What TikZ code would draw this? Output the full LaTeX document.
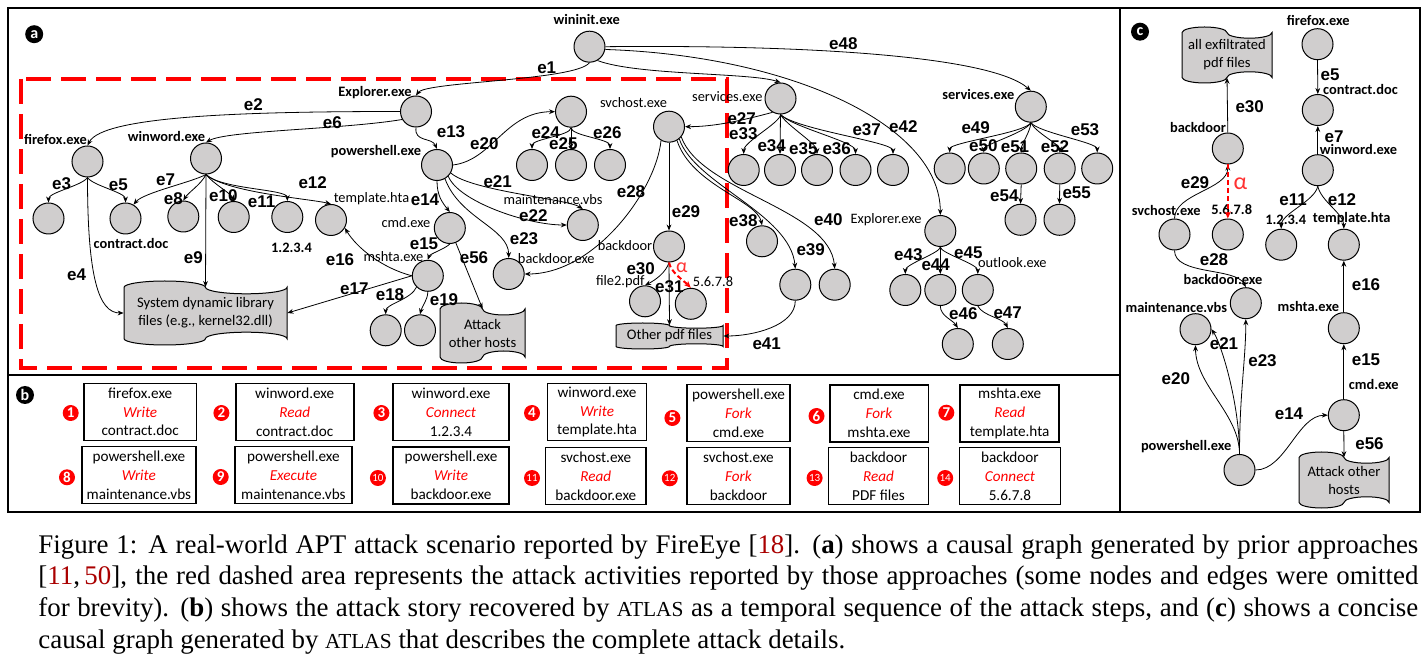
\documentclass[tikz,border=0pt]{standalone}
\usepackage{fontspec}
\setmainfont{Liberation Serif}
\newfontfamily\calibri{Carlito}
\newfontfamily\arialf{Liberation Sans}
\usetikzlibrary{arrows.meta}

\definecolor{nodegray}{RGB}{208,206,206}
\definecolor{citered}{RGB}{170,0,0}
\definecolor{alphared}{RGB}{255,50,50}

\newcommand\stepact[1]{{\color{red}\itshape #1}}
\newcommand\atlasname{{\fontsize{10.7}{15.85}\selectfont ATLAS}}
\newcommand\capline[1]{\makebox[690pt][s]{#1}}

% nastro (punched tape): nome, x0, y0, larghezza, altezza, testo
\newcommand\tapebox[6]{%
  \pgfmathsetmacro\tapeq{#4/4}%
  \pgfmathsetmacro\tapea{#5/10}%
  \draw[tapeline] (#2,#3+\tapea)
    arc[start angle=180,end angle=360,x radius=\tapeq,y radius=\tapea]
    arc[start angle=180,end angle=0,x radius=\tapeq,y radius=\tapea]
    -- (#2+#4,#3+#5-\tapea)
    arc[start angle=0,end angle=-180,x radius=\tapeq,y radius=\tapea]
    arc[start angle=0,end angle=180,x radius=\tapeq,y radius=\tapea]
    -- cycle;
  \node[tapetext,minimum width=#4*0.5pt,minimum height=#5*0.4pt] (#1) at (#2+#4/2,#3+#5/2) {#6};
}

\tikzset{
  proc/.style={circle,draw=black,line width=0.5pt,fill=nodegray,minimum size=15.5pt,inner sep=0pt},
  lbl/.style={font=\calibri\fontsize{7.2}{8}\selectfont,inner sep=0pt},
  lblb/.style={font=\calibri\bfseries\fontsize{7.2}{8}\selectfont,inner sep=0pt},
  elab/.style={font=\arialf\bfseries\fontsize{8.5}{9}\selectfont,inner sep=0pt},
  link/.style={-{Stealth[length=3pt,width=2.4pt]},line width=0.4pt},
  alphalink/.style={-{Stealth[length=3.5pt,width=3pt]},draw=red,line width=1pt,dash pattern=on 2.5pt off 1.5pt},
  alphalbl/.style={text=alphared,font=\calibri\fontsize{10}{10}\selectfont,inner sep=0pt},
  tapeline/.style={draw=black,line width=0.5pt,fill=nodegray},
  tapetext/.style={font=\calibri\fontsize{7.3}{9}\selectfont,align=center,inner sep=0pt},
  stepbox/.style={draw=black,line width=0.8pt,minimum height=28.5pt,inner sep=0pt,align=center,font=\calibri\fontsize{7.6}{9.4}\selectfont},
  stepnum/.style={circle,fill=red,text=white,minimum size=8pt,inner sep=0pt,font=\calibri\bfseries\fontsize{7.5}{7.5}\selectfont},
  stepnumsmall/.style={stepnum,font=\calibri\fontsize{5.5}{5.5}\selectfont},
  panellbl/.style={circle,fill=black,text=white,minimum size=9pt,inner sep=0pt,font=\calibri\bfseries\fontsize{8}{8}\selectfont},
  redbox/.style={draw=red,line width=2pt,dash pattern=on 12.5pt off 5pt},
  panelframe/.style={draw=black,line width=1pt}
}

\begin{document}
\begin{tikzpicture}[x=0.5pt,y=-0.5pt]
	% Sfondo e cornici
	\useasboundingbox (0,0) rectangle (1428,667);
	\fill[white] (0,0) rectangle (1428,667);
	\draw[panelframe] (8,8) rectangle (1420,512);
	\draw[panelframe] (1120,8) -- (1120,512);
	\draw[panelframe] (8,375) -- (1120,375);
	\draw[redbox] (21,79) rectangle (727,368);

	\node[panellbl] (pa) at (34.2,34.2) {a};
	\node[panellbl] (pb) at (25,395) {b};
	\node[panellbl] (pc) at (1140,31.7) {c};

	% Pannello a: processi e file
	\node[proc] (wininit) at (589.5,46.7) {};
	\node[proc] (explA) at (416,111.5) {};
	\node[proc] (firefox) at (87.5,161.5) {};
	\node[proc] (winword) at (206,158.5) {};
	\node[proc] (ff1) at (48.5,218.5) {};
	\node[proc] (contract) at (125.5,218.5) {};
	\node[proc] (ww3) at (183.3,216.5) {};
	\node[proc] (ww4) at (233.7,217) {};
	\node[proc] (ipA) at (287.3,217) {};
	\node[proc] (template) at (331,220) {};
	\node[proc] (powershell) at (437,165) {};
	\node[proc] (topmid) at (571,111.7) {};
	\node[proc] (tm1) at (532,165) {};
	\node[proc] (tm2) at (571,165) {};
	\node[proc] (tm3) at (610,165) {};
	\node[proc] (cmd) at (449.8,228) {};
	\node[proc] (maint) at (582.8,225) {};
	\node[proc] (bdexe) at (508.7,274) {};
	\node[proc] (mshta) at (427.8,275.8) {};
	\node[proc] (ms1) at (385.7,330.3) {};
	\node[proc] (ms2) at (420,330.3) {};
	\node[proc] (svchost) at (669,126.7) {};
	\node[proc] (backdoor) at (669,246.5) {};
	\node[proc] (file2) at (645,301.3) {};
	\node[proc] (ipB) at (690.8,303.8) {};
	\node[proc] (servA) at (780.5,98.5) {};
	\node[proc] (sa1) at (743.7,170) {};
	\node[proc] (sa2) at (780,170) {};
	\node[proc] (sa3) at (817,170) {};
	\node[proc] (sa4) at (855.5,170) {};
	\node[proc] (sa5) at (893,170) {};
	\node[proc] (sv38) at (762,241.3) {};
	\node[proc] (sv39) at (795.3,284.7) {};
	\node[proc] (sv40) at (834.7,284.7) {};
	\node[proc] (explB) at (940.3,231) {};
	\node[proc] (eb1) at (905.3,290) {};
	\node[proc] (eb2) at (940.3,290) {};
	\node[proc] (outlook) at (977.8,290) {};
	\node[proc] (eb21) at (957.8,344) {};
	\node[proc] (ol1) at (1007.8,344) {};
	\node[proc] (servB) at (1030.8,106.7) {};
	\node[proc] (sB1) at (949.7,168.5) {};
	\node[proc] (sB2) at (983.8,168.5) {};
	\node[proc] (sB3) at (1021.2,168.5) {};
	\node[proc] (sB4) at (1059.7,168.5) {};
	\node[proc] (sB5) at (1097.2,168.5) {};
	\node[proc] (sB31) at (1020.5,219.8) {};
	\node[proc] (sB41) at (1059.5,219.8) {};

	\tapebox{tapeSys}{124}{281}{163}{64}{System dynamic library\\files (e.g., kernel32.dll)}
	\tapebox{tapeAtk}{440}{303}{85}{60}{Attack\\other hosts}
	\tapebox{tapePdf}{616}{323}{107}{26}{Other pdf files}

	% Etichette dei nodi
	\node[lblb] (wininitL) at (586.7,19.3) {wininit.exe};
	\node[lblb] (explAL) at (375,93) {Explorer.exe};
	\node[lblb] (firefoxL) at (55.5,139) {firefox.exe};
	\node[lblb] (winwordL) at (166.5,137) {winword.exe};
	\node[lblb] (contractL) at (131,243.3) {contract.doc};
	\node[lblb] (ipAL) at (291.5,248) {1.2.3.4};
	\node[lbl] (templateL) at (371.5,199) {template.hta};
	\node[lblb] (powershellL) at (376,152) {powershell.exe};
	\node[lbl] (cmdL) at (406,222.3) {cmd.exe};
	\node[lbl] (maintL) at (553,199.3) {maintenance.vbs};
	\node[lbl] (bdexeL) at (556.3,258.3) {backdoor.exe};
	\node[lbl] (mshtaL) at (393.5,257) {mshta.exe};
	\node[lbl] (svchostL) at (633.5,102.5) {svchost.exe};
	\node[lbl] (backdoorL) at (625,245.7) {backdoor};
	\node[lbl] (file2L) at (620.3,281.7) {file2.pdf};
	\node[lbl] (ipBL) at (713,281.7) {5.6.7.8};
	\node[lbl] (servAL) at (727.3,96.7) {services.exe};
	\node[lbl] (explBL) at (886,220) {Explorer.exe};
	\node[lbl] (outlookL) at (1012.3,262.3) {outlook.exe};
	\node[lblb] (servBL) at (978.3,95) {services.exe};

	% Archi del pannello a
	\draw[link] (wininit.south) .. controls +(-14,18) and +(10,-14) .. (explA.north);
	\draw[link] (wininit.-60) .. controls +(40,15) and +(-30,-10) .. (servA.north);
	\draw[link] (wininit.-10) .. controls +(185,6) and +(0,-90) .. (explB.north);
	\draw[link] (wininit.east) .. controls +(200,-2) and +(-40,-35) .. (servB.north);

	\draw[link] (explA.west) .. controls +(-150,0) and +(15,-30) .. (firefox.north);
	\draw[link] (explA.210) .. controls +(-60,10) and +(20,-12) .. (winword.north);
	\draw[link] (explA.south) .. controls +(-2,15) and +(-5,-12) .. (powershell.north);

	\draw[link] (firefox.south) .. controls +(-5,8) and +(0,-10) .. (ff1.north);
	\draw[link] (firefox.south) .. controls +(5,8) and +(0,-10) .. (contract.north);
	\draw[link] (firefox.south) .. controls +(0,100) and +(-25,0) .. (tapeSys.west);

	\draw[link] (winword.south) .. controls +(-15,8) and +(10,-12) .. (contract.60);
	\draw[link] (winword.south) .. controls +(-5,10) and +(5,-8) .. (ww3.north);
	\draw[link] (winword.south) -- (tapeSys.north);
	\draw[link] (winword.south) .. controls +(8,10) and +(-3,-8) .. (ww4.north);
	\draw[link] (winword.south) .. controls +(15,15) and +(0,-12) .. (ipA.north);
	\draw[link] (winword.south) .. controls +(20,18) and +(-20,-5) .. (template.north);

	\draw[link] (powershell.south) .. controls +(0,14) and +(-8,-10) .. (cmd.north);
	\draw[link] (powershell.east) .. controls +(40,-5) and +(-50,0) .. (topmid.west);
	\draw[link] (powershell.-30) .. controls +(20,18) and +(-15,-10) .. (maint.north);
	\draw[link] (powershell.-45) .. controls +(10,25) and +(-40,0) .. (maint.west);
	\draw[link] (powershell.-60) .. controls +(15,40) and +(0,-30) .. (bdexe.north);

	\draw[link] (cmd.south) .. controls +(-5,5) and +(2,-6) .. (mshta.north);
	\draw[link] (cmd) -- (tapeAtk.north);
	\draw[link] (mshta.west) .. controls +(-30,-8) and +(12,20) .. (template.-30);
	\draw[link] (mshta.west) -- (tapeSys.east);
	\draw[link] (mshta.-135) .. controls +(-5,12) and +(0,-10) .. (ms1.north);
	\draw[link] (mshta.south) .. controls +(0,8) and +(2,-8) .. (ms2.north);

	\draw[link] (topmid.south) .. controls +(0,8) and +(0,-10) .. (tm1.north);
	\draw[link] (topmid.south) -- (tm2.north);
	\draw[link] (topmid.south) .. controls +(0,8) and +(0,-10) .. (tm3.north);

	\draw[link] (servA.-120) .. controls +(-30,8) and +(30,0) .. (svchost.east);
	\draw[link] (servA.south) .. controls +(0,8) and +(0,-12) .. (sa1.north);
	\draw[link] (servA.south) -- (sa2.north);
	\draw[link] (servA.south) .. controls +(5,10) and +(0,-10) .. (sa3.north);
	\draw[link] (servA.south) .. controls +(10,12) and +(0,-12) .. (sa4.north);
	\draw[link] (servA.south) .. controls +(15,15) and +(0,-12) .. (sa5.north);

	\draw[link] (svchost.-120) .. controls +(-5,50) and +(70,0) .. (bdexe.east);
	\draw[link] (svchost.south) -- (backdoor.north);
	\draw[link] (svchost.-60) .. controls +(15,45) and +(-5,-25) .. (sv38.north);
	\draw[link] (svchost.-50) .. controls +(15,45) and +(-5,-55) .. (sv39.north);
	\draw[link] (svchost.-40) .. controls +(20,55) and +(-5,-60) .. (sv40.north);
	\draw[link] (sv39.south) .. controls +(0,25) and +(30,0) .. (tapePdf.east);

	\draw[link] (backdoor.south) .. controls +(-3,10) and +(10,-5) .. (file2.north);
	\draw[link] (backdoor.south) -- (tapePdf.north);
	\draw[alphalink] (backdoor.south) .. controls +(2,10) and +(-8,-8) .. (ipB.north);

	\draw[link] (explB.south) .. controls +(0,6) and +(0,-10) .. (eb1.north);
	\draw[link] (explB.south) -- (eb2.north);
	\draw[link] (explB.south) .. controls +(0,6) and +(0,-10) .. (outlook.north);
	\draw[link] (eb2.south) .. controls +(0,10) and +(-5,-8) .. (eb21.north);
	\draw[link] (outlook.south) .. controls +(5,10) and +(-5,-10) .. (ol1.north);

	\draw[link] (servB.south) .. controls +(-5,10) and +(0,-10) .. (sB1.north);
	\draw[link] (servB.south) .. controls +(-5,10) and +(0,-8) .. (sB2.north);
	\draw[link] (servB.south) .. controls +(0,8) and +(0,-8) .. (sB3.north);
	\draw[link] (servB.south) .. controls +(5,10) and +(0,-8) .. (sB4.north);
	\draw[link] (servB.south) .. controls +(8,10) and +(0,-10) .. (sB5.north);
	\draw[link] (sB3.south) -- (sB31.north);
	\draw[link] (sB4.south) -- (sB41.north);

	% Etichette degli archi (pannello a)
	\node[elab] (e1) at (546.7,67.7) {e1};
	\node[elab] (e2) at (253.3,105) {e2};
	\node[elab] (e3) at (61.7,183.3) {e3};
	\node[elab] (e4) at (76.7,275) {e4};
	\node[elab] (e5) at (118.3,185) {e5};
	\node[elab] (e6) at (332.3,122.7) {e6};
	\node[elab] (e7) at (165.7,180) {e7};
	\node[elab] (e8) at (173.3,198.3) {e8};
	\node[elab] (e9) at (193.3,257.3) {e9};
	\node[elab] (e10) at (223.3,196) {e10};
	\node[elab] (e11) at (261.7,201.7) {e11};
	\node[elab] (e12) at (312.7,182.3) {e12};
	\node[elab] (e13) at (451,131.7) {e13};
	\node[elab] (e14) at (425,200) {e14};
	\node[elab] (e15) at (424,244) {e15};
	\node[elab] (e16) at (340,260) {e16};
	\node[elab] (e17) at (354.3,289) {e17};
	\node[elab] (e18) at (390,295) {e18};
	\node[elab] (e19) at (444,299.3) {e19};
	\node[elab] (e20) at (484.3,143.3) {e20};
	\node[elab] (e21) at (497.7,181.7) {e21};
	\node[elab] (e22) at (533.3,216) {e22};
	\node[elab] (e23) at (524,238.3) {e23};
	\node[elab] (e24) at (545.7,132.7) {e24};
	\node[elab] (e25) at (563.3,143.3) {e25};
	\node[elab] (e26) at (607.3,132.7) {e26};
	\node[elab] (e27) at (741.7,119) {e27};
	\node[elab] (e28) at (631,191.7) {e28};
	\node[elab] (e29) at (686,211.7) {e29};
	\node[elab] (e30) at (640.7,268.3) {e30};
	\node[elab] (e31) at (669.3,286.7) {e31};
	\node[elab] (e33) at (743.3,134) {e33};
	\node[elab] (e34) at (771.7,146) {e34};
	\node[elab] (e35) at (803.3,148.3) {e35};
	\node[elab] (e36) at (836.7,148.3) {e36};
	\node[elab] (e37) at (866.7,130) {e37};
	\node[elab] (e38) at (743.3,221) {e38};
	\node[elab] (e39) at (810.7,250) {e39};
	\node[elab] (e40) at (828.3,220) {e40};
	\node[elab] (e41) at (766.7,343.3) {e41};
	\node[elab] (e42) at (903.3,126.7) {e42};
	\node[elab] (e43) at (908.3,255) {e43};
	\node[elab] (e44) at (935.7,265) {e44};
	\node[elab] (e45) at (968.3,252.3) {e45};
	\node[elab] (e46) at (963.3,314) {e46};
	\node[elab] (e47) at (1007.7,312.3) {e47};
	\node[elab] (e48) at (843.3,43.3) {e48};
	\node[elab] (e49) at (975.7,127.7) {e49};
	\node[elab] (e50) at (983.3,145.7) {e50};
	\node[elab] (e51) at (1015,146.7) {e51};
	\node[elab] (e52) at (1055,146.7) {e52};
	\node[elab] (e53) at (1085,130) {e53};
	\node[elab] (e54) at (1004.3,196) {e54};
	\node[elab] (e55) at (1076.7,192.7) {e55};
	\node[elab] (e56) at (474,257.3) {e56};
	\node[alphalbl] (alphaA) at (681.7,267.3) {α};

	% Pannello b: passi dell'attacco
	\node[stepbox,minimum width=56.2pt] (st1) at (140.2,412) {firefox.exe\\\stepact{Write}\\contract.doc};
	\node[stepbox,minimum width=59pt] (st2) at (294.7,412) {winword.exe\\\stepact{Read}\\contract.doc};
	\node[stepbox,minimum width=58pt] (st3) at (451,412) {winword.exe\\\stepact{Connect}\\1.2.3.4};
	\node[stepbox,minimum width=49.5pt] (st4) at (597,412) {winword.exe\\\stepact{Write}\\template.hta};
	\node[stepbox,minimum width=51.75pt] (st5) at (738.5,413) {powershell.exe\\\stepact{Fork}\\cmd.exe};
	\node[stepbox,minimum width=49.3pt] (st6) at (879,413.3) {cmd.exe\\\stepact{Fork}\\mshta.exe};
	\node[stepbox,minimum width=49.5pt] (st7) at (1009.7,413.3) {mshta.exe\\\stepact{Read}\\template.hta};
	\node[stepbox,minimum width=56.85pt] (st8) at (138.9,475) {powershell.exe\\\stepact{Write}\\maintenance.vbs};
	\node[stepbox,minimum width=58.4pt] (st9) at (293.4,475) {powershell.exe\\\stepact{Execute}\\maintenance.vbs};
	\node[stepbox,minimum width=58pt] (st10) at (451,475.5) {powershell.exe\\\stepact{Write}\\backdoor.exe};
	\node[stepbox,minimum width=50.2pt] (st11) at (595.8,476) {svchost.exe\\\stepact{Read}\\backdoor.exe};
	\node[stepbox,minimum width=51.75pt] (st12) at (738.5,476) {svchost.exe\\\stepact{Fork}\\backdoor};
	\node[stepbox,minimum width=49.85pt] (st13) at (878.5,476) {backdoor\\\stepact{Read}\\PDF files};
	\node[stepbox,minimum width=50.4pt] (st14) at (1009.9,476) {backdoor\\\stepact{Connect}\\5.6.7.8};

	\node[stepnum] (n1) at (70.7,413) {1};
	\node[stepnum] (n2) at (221.4,413) {2};
	\node[stepnum] (n3) at (381.4,413) {3};
	\node[stepnum] (n4) at (532,413) {4};
	\node[stepnum] (n5) at (672.4,418) {5};
	\node[stepnum] (n6) at (816.5,416) {6};
	\node[stepnum] (n7) at (946.3,412.7) {7};
	\node[stepnum] (n8) at (67,477.3) {8};
	\node[stepnum] (n9) at (220.7,477) {9};
	\node[stepnumsmall] (n10) at (377.9,478) {10};
	\node[stepnumsmall] (n11) at (532,478) {11};
	\node[stepnumsmall] (n12) at (669.8,478.3) {12};
	\node[stepnumsmall] (n13) at (814.6,478) {13};
	\node[stepnumsmall] (n14) at (945.2,478) {14};

	% Pannello c: grafo conciso
	\node[proc] (cBackdoor) at (1227.8,148.5) {};
	\node[proc] (cIpB) at (1227.8,234.5) {};
	\node[proc] (cSvchost) at (1174.5,234.5) {};
	\node[proc] (cFirefox) at (1317.5,44.2) {};
	\node[proc] (cContract) at (1317.8,110) {};
	\node[proc] (cWinword) at (1317.8,170.2) {};
	\node[proc] (cIpA) at (1281.2,244.7) {};
	\node[proc] (cTemplate) at (1343.8,244.7) {};
	\node[proc] (cBdexe) at (1245.8,303.2) {};
	\node[proc] (cMaint) at (1195.5,329.2) {};
	\node[proc] (cPowershell) at (1239.5,470) {};
	\node[proc] (cCmd) at (1343.8,415.2) {};
	\node[proc] (cMshta) at (1343.8,328.2) {};

	\tapebox{cTapePdf}{1182}{27}{90}{56}{all exfiltrated\\pdf files}
	\tapebox{cTapeAtk}{1299}{452}{90}{56}{Attack other\\hosts}

	\node[lblb] (cFirefoxL) at (1318.3,20.7) {firefox.exe};
	\node[lblb] (cContractL) at (1360.5,89.3) {contract.doc};
	\node[lblb] (cWinwordL) at (1358.5,150) {winword.exe};
	\node[lblb] (cBackdoorL) at (1198,127.7) {backdoor};
	\node[lblb] (cSvchostL) at (1166.2,211) {svchost.exe};
	\node[lblb] (cIpBL) at (1231.7,210) {5.6.7.8};
	\node[lblb] (cIpAL) at (1285.7,220) {1.2.3.4};
	\node[lblb] (cTemplateL) at (1351.7,219) {template.hta};
	\node[lblb] (cBdexeL) at (1223,279.3) {backdoor.exe};
	\node[lblb] (cMaintL) at (1176.3,307.3) {maintenance.vbs};
	\node[lblb] (cMshtaL) at (1308.3,306.7) {mshta.exe};
	\node[lblb] (cCmdL) at (1373.8,385) {cmd.exe};
	\node[lblb] (cPowershellL) at (1186.2,446.7) {powershell.exe};

	\draw[link] (cBackdoor.north) -- (cTapePdf.south);
	\draw[link] (cSvchost.north) .. controls +(0,-25) and +(0,25) .. (cBackdoor.south);
	\draw[alphalink] (cBackdoor.south) -- (cIpB.north);
	\draw[link] (cSvchost.south) .. controls +(0,25) and +(-10,-20) .. (cBdexe.north);
	\draw[link] (cFirefox.south) -- (cContract.north);
	\draw[link] (cWinword.north) -- (cContract.south);
	\draw[link] (cWinword.south) .. controls +(-3,15) and +(0,-15) .. (cIpA.north);
	\draw[link] (cWinword.south) .. controls +(3,15) and +(0,-15) .. (cTemplate.north);
	\draw[link] (cPowershell.north) .. controls +(0,-40) and +(0,40) .. (cMaint.south);
	\draw[link] (cPowershell.north) .. controls +(0,-50) and +(10,15) .. (cMaint.east);
	\draw[link] (cPowershell.north) .. controls +(0,-60) and +(0,40) .. (cBdexe.south);
	\draw[link] (cPowershell.east) .. controls +(30,0) and +(-30,0) .. (cCmd.west);
	\draw[link] (cCmd.south) -- (cTapeAtk.north);
	\draw[link] (cCmd.north) -- (cMshta.south);
	\draw[link] (cMshta.north) -- (cTemplate.south);

	\node[elab] (ce5) at (1330,75) {e5};
	\node[elab] (ce7) at (1334,136.7) {e7};
	\node[elab] (ce30) at (1249.7,106.7) {e30};
	\node[elab] (ce29) at (1195,182.7) {e29};
	\node[elab] (ce11) at (1293,200) {e11};
	\node[elab] (ce12) at (1342,200) {e12};
	\node[elab] (ce28) at (1214,259.3) {e28};
	\node[elab] (ce21) at (1224,344) {e21};
	\node[elab] (ce23) at (1262.5,361) {e23};
	\node[elab] (ce20) at (1175.8,378.3) {e20};
	\node[elab] (ce16) at (1366,285) {e16};
	\node[elab] (ce15) at (1366,359.3) {e15};
	\node[elab] (ce14) at (1289,414) {e14};
	\node[elab] (ce56) at (1369.5,444) {e56};
	\node[alphalbl,font=\calibri\fontsize{12}{12}\selectfont] (alphaC) at (1240.5,183.3) {α};

	% Didascalia
	\node[anchor=north west,inner sep=0pt,align=left,font=\fontsize{13.45}{15.85}\selectfont] (caption) at (38,534) {\capline{Figure 1: A real-world APT attack scenario reported by FireEye [{\color{citered}18}]. (\textbf{a}) shows a causal graph generated by prior approaches}\\
		\capline{[{\color{citered}11},\,{\color{citered}50}], the red dashed area represents the attack activities reported by those approaches (some nodes and edges were omitted}\\
		\capline{for brevity). (\textbf{b}) shows the attack story recovered by \atlasname{} as a temporal sequence of the attack steps, and (\textbf{c}) shows a concise}\\
		causal graph generated by \atlasname{} that describes the complete attack details.};
\end{tikzpicture}
\end{document}
